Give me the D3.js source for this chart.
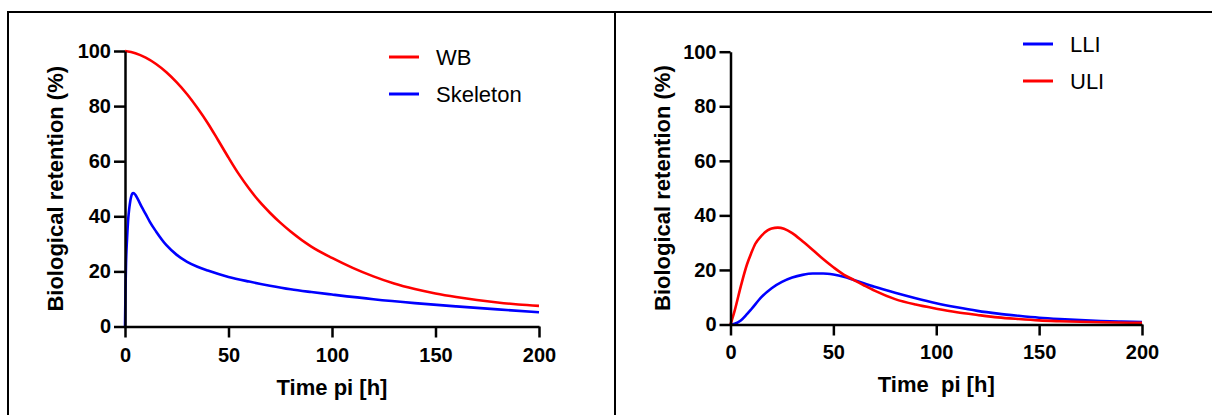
<!DOCTYPE html>
<html>
<head>
<meta charset="utf-8">
<script src="https://cdn.jsdelivr.net/npm/d3@7"></script>
<style>
  body { margin: 0; background: #fff; }
  svg { display: block; font-family: "Liberation Sans", Arial, sans-serif; }
  .axis path, .axis line { stroke: #000; stroke-width: 2.5px; }
  .axis text { font-size: 20px; font-weight: bold; fill: #000; }
  .title { font-size: 22px; font-weight: bold; white-space: pre; }
  .legend-text { font-size: 22px; }
</style>
</head>
<body>
<svg id="chart" width="1212" height="415"></svg>
<script>
// Tick values
const xTicks = [0, 50, 100, 150, 200];
const yTicks = [0, 20, 40, 60, 80, 100];

// Whole body (WB)
const wbTime  = [0, 5, 10, 15, 20, 25, 30, 35, 40, 45, 50, 55, 60, 65, 70, 75, 80, 90, 100, 110, 120, 130, 140, 150, 160, 170, 180, 190, 200];
const wbValue = [100, 99.2, 97.6, 95.3, 92.3, 88.6, 84.3, 79.3, 73.8, 67.6, 61.3, 55.3, 50, 45.3, 41.3, 37.7, 34.5, 29, 24.9, 21.3, 18.2, 15.6, 13.6, 12, 10.7, 9.6, 8.7, 8, 7.5];

// Skeleton
const skelTime  = [0, 0.25, 0.5, 1, 1.5, 2, 2.5, 3, 3.5, 4, 5, 6, 8, 10, 12, 15, 20, 25, 30, 35, 40, 50, 60, 70, 80, 90, 100, 120, 140, 160, 180, 200];
const skelValue = [0, 14, 23, 32, 38.5, 42.5, 45.3, 47.2, 48.2, 48.4, 47.8, 46.5, 43.5, 40.8, 38, 34.5, 29.5, 26, 23.5, 21.7, 20.3, 18, 16.3, 14.8, 13.5, 12.5, 11.6, 9.9, 8.5, 7.3, 6.2, 5.2];

// Lower large intestine (LLI)
const lliTime  = [0, 2, 5, 8, 10, 15, 20, 25, 30, 35, 40, 45, 50, 55, 60, 70, 80, 90, 100, 110, 120, 130, 140, 150, 160, 170, 180, 190, 200];
const lliValue = [0, 0.3, 1.5, 3.8, 5.5, 10, 13.3, 15.6, 17.2, 18.2, 18.7, 18.7, 18.3, 17.5, 16.3, 13.8, 11.6, 9.6, 7.8, 6.3, 5, 4, 3.2, 2.5, 2, 1.6, 1.3, 1.1, 0.9];

// Upper large intestine (ULI)
const uliTime  = [0, 2, 5, 8, 10, 12, 15, 18, 20, 23, 26, 30, 35, 40, 45, 50, 55, 60, 65, 70, 80, 90, 100, 110, 120, 130, 140, 150, 160, 180, 200];
const uliValue = [0, 5, 14, 22, 26, 29.5, 32.5, 34.5, 35.2, 35.5, 35.1, 33.5, 30.5, 27.3, 24, 21, 18.3, 16.3, 14.3, 12.4, 9.3, 7.3, 5.8, 4.5, 3.5, 2.6, 2, 1.5, 1.2, 0.8, 0.6];

const toPoints = (ts, vs) => ts.map((t, i) => ({ t, v: vs[i] }));

const svg = d3.select("#chart");

// Frame around the two panels
svg.append("path")
    .attr("d", "M8,415 V12 H1212 M615,12 V415")
    .attr("fill", "none")
    .attr("stroke", "#000")
    .attr("stroke-width", 2);

const panels = [
    {
        xRange: [125, 539], yRange: [326.5, 51], xPad: 10,
        yLabelX: 63, xLabelY: 395, xLabel: "Time pi [h]",
        series: [
            { name: "WB", color: "red", data: toPoints(wbTime, wbValue) },
            { name: "Skeleton", color: "blue", data: toPoints(skelTime, skelValue) }
        ],
        legend: { x: 389, y: 57 }
    },
    {
        xRange: [730.5, 1142], yRange: [324.5, 51.7], xPad: 9,
        yLabelX: 670, xLabelY: 392, xLabel: "Time  pi [h]",
        series: [
            { name: "LLI", color: "blue", data: toPoints(lliTime, lliValue) },
            { name: "ULI", color: "red", data: toPoints(uliTime, uliValue) }
        ],
        legend: { x: 1023, y: 44 }
    }
];

panels.forEach(p => {
    const x = d3.scaleLinear().domain([0, 200]).range(p.xRange);
    const y = d3.scaleLinear().domain([0, 100]).range(p.yRange);

    const line = d3.line()
        .x(d => x(d.t))
        .y(d => y(d.v))
        .curve(d3.curveMonotoneX);

    p.series.forEach(s => {
        svg.append("path")
            .attr("d", line(s.data))
            .attr("fill", "none")
            .attr("stroke", s.color)
            .attr("stroke-width", 2.6);
    });

    svg.append("g")
        .attr("class", "axis")
        .attr("transform", `translate(0,${p.yRange[0]})`)
        .call(d3.axisBottom(x).tickValues(xTicks).tickSize(11).tickSizeOuter(0).tickPadding(p.xPad))
        .attr("font-family", null).attr("font-size", null);

    svg.append("g")
        .attr("class", "axis")
        .attr("transform", `translate(${p.xRange[0]},0)`)
        .call(d3.axisLeft(y).tickValues(yTicks).tickSize(11).tickSizeOuter(0).tickPadding(3))
        .attr("font-family", null).attr("font-size", null);

    // Axis titles
    const midY = (p.yRange[0] + p.yRange[1]) / 2;
    svg.append("text")
        .attr("class", "title")
        .attr("transform", `translate(${p.yLabelX},${midY}) rotate(-90)`)
        .attr("text-anchor", "middle")
        .text("Biological retention (%)");

    svg.append("text")
        .attr("class", "title")
        .attr("x", (p.xRange[0] + p.xRange[1]) / 2)
        .attr("y", p.xLabelY)
        .attr("text-anchor", "middle")
        .text(p.xLabel);

    // Legend
    const legend = svg.append("g")
        .attr("transform", `translate(${p.legend.x},${p.legend.y})`);

    legend.selectAll("g")
        .data(p.series)
        .enter().append("g")
        .attr("transform", (d, i) => `translate(0,${i * 37})`)
        .each(function (d) {
            d3.select(this).append("line")
                .attr("x1", 0).attr("x2", 30)
                .attr("stroke", d.color)
                .attr("stroke-width", 3);
            d3.select(this).append("text")
                .attr("class", "legend-text")
                .attr("x", 47)
                .attr("y", 8)
                .text(d.name);
        });
});
</script>
</body>
</html>
